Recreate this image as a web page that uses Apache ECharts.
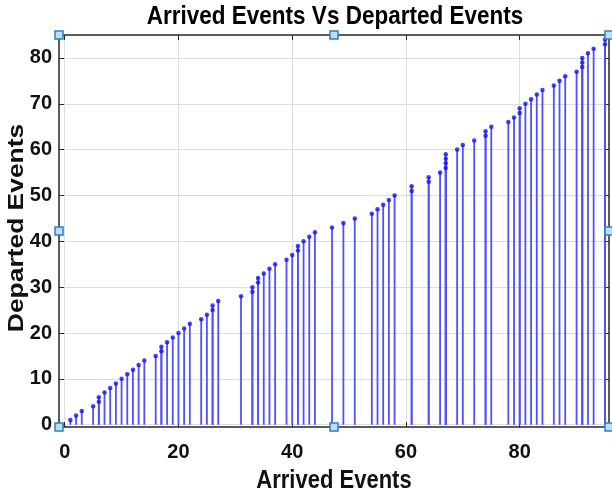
<!DOCTYPE html>
<html>
<head>
<meta charset="utf-8">
<style>
  html, body { margin: 0; padding: 0; background: #ffffff; }
  #chart { width: 612px; height: 496px; }
</style>
<script src="https://cdn.jsdelivr.net/npm/echarts@6/dist/echarts.min.js"></script>
</head>
<body>
<div id="chart"></div>
<script>
// Cumulative count of arrived events at each departure (one entry per departure)
const arrivedEvents = [
  1, 2, 3, 5, 6, 6, 7, 8, 9, 10, 11, 12, 13, 14, 16, 17, 17, 18, 19, 20,
  21, 22, 24, 25, 26, 26, 27, 31, 33, 33, 34, 34, 35, 36, 37, 39, 40, 41, 41, 42,
  43, 44, 47, 49, 51, 54, 55, 56, 57, 58, 61, 61, 64, 64, 66, 67, 67, 67, 67, 69,
  70, 72, 74, 74, 75, 78, 79, 80, 80, 81, 82, 83, 84, 86, 87, 88, 90, 91, 91, 91,
  92, 93, 95, 95
];
// Cumulative count of departed events
const departedEvents = [
  1, 2, 3, 4, 5, 6, 7, 8, 9, 10, 11, 12, 13, 14, 15, 16, 17, 18, 19, 20,
  21, 22, 23, 24, 25, 26, 27, 28, 29, 30, 31, 32, 33, 34, 35, 36, 37, 38, 39, 40,
  41, 42, 43, 44, 45, 46, 47, 48, 49, 50, 51, 52, 53, 54, 55, 56, 57, 58, 59, 60,
  61, 62, 63, 64, 65, 66, 67, 68, 69, 70, 71, 72, 73, 74, 75, 76, 77, 78, 79, 80,
  81, 82, 83, 84
];
const xTicks = [0, 20, 40, 60, 80];
const yTicks = [0, 10, 20, 30, 40, 50, 60, 70, 80];

const titleText = 'Arrived Events Vs Departed Events';
const xName = 'Arrived Events';
const yName = 'Departed Events';

const points = arrivedEvents.map((a, i) => [a, departedEvents[i]]);

const FONT = '"Liberation Sans", Arial, Helvetica, sans-serif';
const AXIS_COLOR = '#262626';
const GRID_COLOR = '#dedede';
const STEM_COLOR = '#5050ff';
const MARK_COLOR = '#1010ff';

const X_MIN = -1, X_MAX = 95.7, Y_MIN = -0.5, Y_MAX = 85;

const chart = echarts.init(document.getElementById('chart'), null, { renderer: 'canvas' });

const tickLabel = (ticks, margin) => ({
  show: true, customValues: ticks, color: '#111', fontFamily: FONT,
  fontWeight: 'bold', fontSize: 20, margin: margin
});

function valueAxis(pos, min, max, ticks, showLabels, extra) {
  return Object.assign({
    type: 'value',
    position: pos,
    min: min,
    max: max,
    axisLine: { show: true, onZero: false, lineStyle: { color: AXIS_COLOR, width: 1.5 } },
    axisTick: { show: true, inside: true, length: 5, customValues: ticks, lineStyle: { color: AXIS_COLOR, width: 1 } },
    axisLabel: { show: false },
    splitLine: { show: showLabels, lineStyle: { color: GRID_COLOR, width: 1 } }
  }, extra || {});
}

const option = {
  animation: false,
  backgroundColor: '#ffffff',
  grid: { left: 59, top: 35, right: 3, bottom: 69, containLabel: false, outerBoundsMode: 'none' },
  xAxis: [
    valueAxis('bottom', X_MIN, X_MAX, xTicks, true, { axisLabel: tickLabel(xTicks, 15) }),
    valueAxis('top', X_MIN, X_MAX, xTicks, false)
  ],
  yAxis: [
    valueAxis('left', Y_MIN, Y_MAX, yTicks, true, { axisLabel: tickLabel(yTicks, 7) }),
    valueAxis('right', Y_MIN, Y_MAX, yTicks, false)
  ],
  series: [
    {
      // vertical stems from the zero baseline up to each departure count
      type: 'custom',
      xAxisIndex: 0, yAxisIndex: 0,
      data: points,
      clip: true,
      renderItem: function (params, api) {
        const p0 = api.coord([api.value(0), 0]);
        const p1 = api.coord([api.value(0), api.value(1)]);
        return {
          type: 'line',
          shape: { x1: p0[0], y1: p0[1], x2: p1[0], y2: p1[1] },
          style: { stroke: STEM_COLOR, lineWidth: 1.8 }
        };
      },
      z: 2
    },
    {
      type: 'scatter',
      xAxisIndex: 0, yAxisIndex: 0,
      data: points,
      symbol: 'circle',
      symbolSize: 4.5,
      itemStyle: { color: MARK_COLOR },
      z: 3
    }
  ]
};

chart.setOption(option);

// Box corners in pixels, taken from the axes
const c00 = chart.convertToPixel({ xAxisIndex: 0, yAxisIndex: 0 }, [X_MIN, Y_MIN]);
const c11 = chart.convertToPixel({ xAxisIndex: 0, yAxisIndex: 0 }, [X_MAX, Y_MAX]);
const midX = (c00[0] + c11[0]) / 2;
const midY = (c00[1] + c11[1]) / 2;

// Title and axis names, drawn slightly tall like the exported figure
const graphics = [
  {
    type: 'text', x: 335, y: 17, scaleY: 1.12,
    style: { text: titleText, font: 'bold 22.5px ' + FONT, fill: '#000', align: 'center', verticalAlign: 'middle' },
    z: 50
  },
  {
    type: 'text', x: midX, y: 481, scaleY: 1.15,
    style: { text: xName, font: 'bold 22px ' + FONT, fill: '#111', align: 'center', verticalAlign: 'middle' },
    z: 50
  },
  {
    type: 'text', x: 17, y: 228, rotation: Math.PI / 2, scaleX: 1.2,
    style: { text: yName, font: 'bold 22px ' + FONT, fill: '#111', align: 'center', verticalAlign: 'middle' },
    z: 50
  }
];

// Selection handles on the corners and edge midpoints of the axes box
const xs = [c00[0], midX, c11[0]];
const ys = [c11[1], midY, c00[1]];
ys.forEach((y, j) => {
  xs.forEach((x, i) => {
    if (i === 1 && j === 1) return;
    graphics.push({
      type: 'rect',
      shape: { x: x - 4, y: y - 4, width: 8, height: 8 },
      style: { fill: '#b9e0f7', stroke: '#2f7fc0', lineWidth: 1.5 },
      z: 100
    });
  });
});
chart.setOption({ graphic: graphics });
</script>
</body>
</html>
